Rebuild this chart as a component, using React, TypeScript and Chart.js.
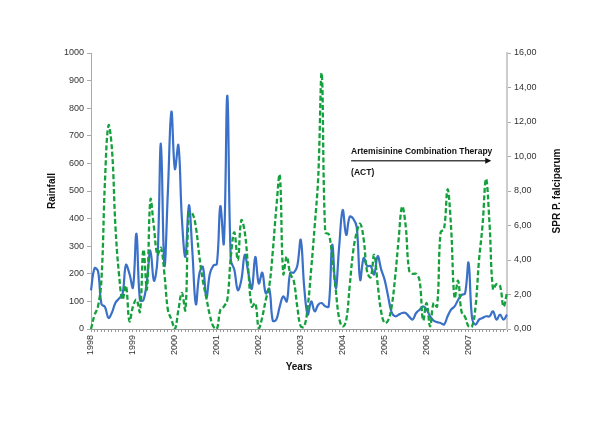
import React, { useEffect, useRef } from 'react';
import { Chart, registerables } from 'chart.js';

Chart.register(...registerables);

const FONT = "'Liberation Sans', Arial, Helvetica, sans-serif";

// Year tick labels (one per January)
const years = ['1998', '1999', '2000', '2001', '2002', '2003', '2004', '2005', '2006', '2007'];

// Monthly rainfall, Jan 1998 .. Dec 2007 (left axis)
const rainfall = [
  140, 220, 210, 90, 80, 40, 60, 95, 110, 125,
  232, 200, 150, 345, 105, 105, 175, 285, 175, 250,
  672, 230, 500, 787, 580, 666, 400, 262, 449, 280,
  90, 200, 225, 115, 200, 230, 235, 445, 310, 845,
  250, 215, 141, 177, 269, 204, 146, 261, 165, 204,
  129, 146, 30, 34, 82, 118, 100, 204, 204, 228,
  323, 150, 52, 100, 64, 88, 94, 82, 82, 305,
  146, 300, 431, 341, 407, 400, 370, 178, 257, 228,
  228, 198, 264, 216, 178, 118, 60, 46, 52, 58,
  58, 45, 34, 58, 70, 82, 70, 46, 30, 25,
  22, 16, 46, 70, 82, 105, 123, 129, 240, 40,
  16, 34, 40, 46, 46, 64, 34, 52, 34, 52,
];

// Monthly SPR P. falciparum (right axis)
const spr = [
  0, 0.8, 1.3, 2.9, 8.6, 11.8, 10.4, 5.9, 3.2, 1.7,
  2.5, 0.45, 1.3, 1.7, 1.0, 4.6, 2.3, 7.5, 5.9, 4.3,
  4.7, 3.2, 1.1, 0.55, 0, 1.1, 2.1, 1.1, 6.7, 6.7,
  5.9, 4.2, 2.8, 1.8, 0.8, 0.15, 0, 1.1, 1.3, 1.7,
  4.2, 5.6, 4.0, 6.3, 5.6, 3.4, 1.3, 1.5, 0.05, 0.7,
  1.7, 2.5, 4.5, 7.0, 8.9, 3.2, 4.2, 3.2, 2.8, 1.3,
  0.15, 0.15, 1.3, 3.5, 6.0, 8.8, 14.8, 5.6, 5.5, 4.2,
  2.3, 0.6, 0.15, 0.5, 2.5, 4.5, 5.6, 6.1, 5.2, 3.3,
  3.0, 4.3, 2.6, 1.0, 0.35, 0.5, 1.3, 3.0, 5.2, 7.1,
  6.0, 3.4, 3.2, 3.2, 2.8, 0.5, 1.5, 0.15, 1.5, 1.3,
  5.6, 5.8, 8.1, 5.9, 1.8, 2.8, 1.0, 0.7, 0.15, 0.15,
  1.3, 4.0, 6.0, 8.7, 6.1, 2.3, 2.6, 2.5, 1.3, 2.1,
];

// Annotation anchors (month index / rainfall units)
const actText = 'Artemisinine Combination Therapy';
const actShort = '(ACT)';
const actStartMonth = 74.4;
const actEndMonth = 114.5;
const actTextLevel = 642;
const actArrowLevel = 610;
const actShortLevel = 568;

const overlay = {
  id: 'overlay',
  afterDraw(chart: any) {
    const { ctx, chartArea, scales } = chart;
    const x = scales.x;
    const y = scales.y;
    ctx.save();
    ctx.fillStyle = '#111';
    ctx.font = `bold 10px ${FONT}`;
    ctx.textAlign = 'center';
    ctx.textBaseline = 'middle';
    const midY = (chartArea.top + chartArea.bottom) / 2;
    ctx.save();
    ctx.translate(52, midY);
    ctx.rotate(-Math.PI / 2);
    ctx.fillText('Rainfall', 0, 0);
    ctx.restore();
    ctx.save();
    ctx.translate(557, midY);
    ctx.rotate(-Math.PI / 2);
    ctx.fillText('SPR P. falciparum', 0, 0);
    ctx.restore();
    ctx.fillText('Years', (chartArea.left + chartArea.right) / 2, 367);

    const x0 = x.getPixelForValue(actStartMonth);
    const x1 = x.getPixelForValue(actEndMonth);
    ctx.font = `bold 8.5px ${FONT}`;
    ctx.textAlign = 'left';
    ctx.fillText(actText, x0, y.getPixelForValue(actTextLevel));
    ctx.fillText(actShort, x0, y.getPixelForValue(actShortLevel));
    const ay = y.getPixelForValue(actArrowLevel);
    ctx.strokeStyle = '#444';
    ctx.lineWidth = 1.5;
    ctx.beginPath();
    ctx.moveTo(x0, ay);
    ctx.lineTo(x1 - 4, ay);
    ctx.stroke();
    ctx.fillStyle = '#111';
    ctx.beginPath();
    ctx.moveTo(x1, ay);
    ctx.lineTo(x1 - 6, ay - 3);
    ctx.lineTo(x1 - 6, ay + 3);
    ctx.closePath();
    ctx.fill();
    ctx.restore();
  },
};

export default function App() {
  const ref = useRef<HTMLCanvasElement>(null);
  useEffect(() => {
    document.body.style.margin = '0';
    const labels = rainfall.map((_, i) => (i % 12 === 0 ? years[i / 12] : ''));
    const chart = new Chart(ref.current as HTMLCanvasElement, {
      type: 'line',
      data: {
        labels,
        datasets: [
          {
            label: 'SPR P. falciparum',
            data: spr,
            yAxisID: 'y1',
            borderColor: '#14a03c',
            borderWidth: 2.3,
            borderDash: [5, 2.5],
            pointRadius: 0,
            tension: 0.4,
            fill: false,
          },
          {
            label: 'Rainfall',
            data: rainfall,
            yAxisID: 'y',
            borderColor: '#3a70c8',
            borderWidth: 2.2,
            pointRadius: 0,
            tension: 0.4,
            fill: false,
          },
        ],
      },
      options: {
        responsive: false,
        animation: false,
        layout: { padding: { top: 53, left: 0, right: 0, bottom: 0 } },
        plugins: { legend: { display: false }, tooltip: { enabled: false } },
        scales: {
          x: {
            type: 'category',
            afterFit: (s: any) => { s.height = 95; },
            grid: { drawOnChartArea: false, drawTicks: true, tickLength: 3, color: '#999' },
            border: { display: true, color: '#999' },
            ticks: {
              autoSkip: false,
              maxRotation: 90,
              minRotation: 90,
              padding: 3,
              color: '#333',
              font: { family: FONT, size: 9 },
            },
          },
          y: {
            position: 'left',
            min: 0,
            max: 1000,
            afterFit: (s: any) => { s.width = 91; },
            grid: { drawOnChartArea: false, tickLength: 4, color: '#aaa' },
            border: { display: true, color: '#aaa' },
            ticks: {
              stepSize: 100,
              padding: 3,
              color: '#333',
              font: { family: FONT, size: 9 },
              callback: (v: any) => String(v),
            },
          },
          y1: {
            position: 'right',
            min: 0,
            max: 16,
            afterFit: (s: any) => { s.width = 93; },
            grid: { drawOnChartArea: false, tickLength: 4, color: '#aaa' },
            border: { display: true, color: '#ccc', width: 2 },
            ticks: {
              stepSize: 2,
              padding: 3,
              color: '#333',
              font: { family: FONT, size: 9 },
              callback: (v: any) => Number(v).toFixed(2).replace('.', ','),
            },
          },
        },
      },
      plugins: [overlay],
    });
    return () => chart.destroy();
  }, []);
  return <canvas ref={ref} width={600} height={424} style={{ display: 'block' }} />;
}
